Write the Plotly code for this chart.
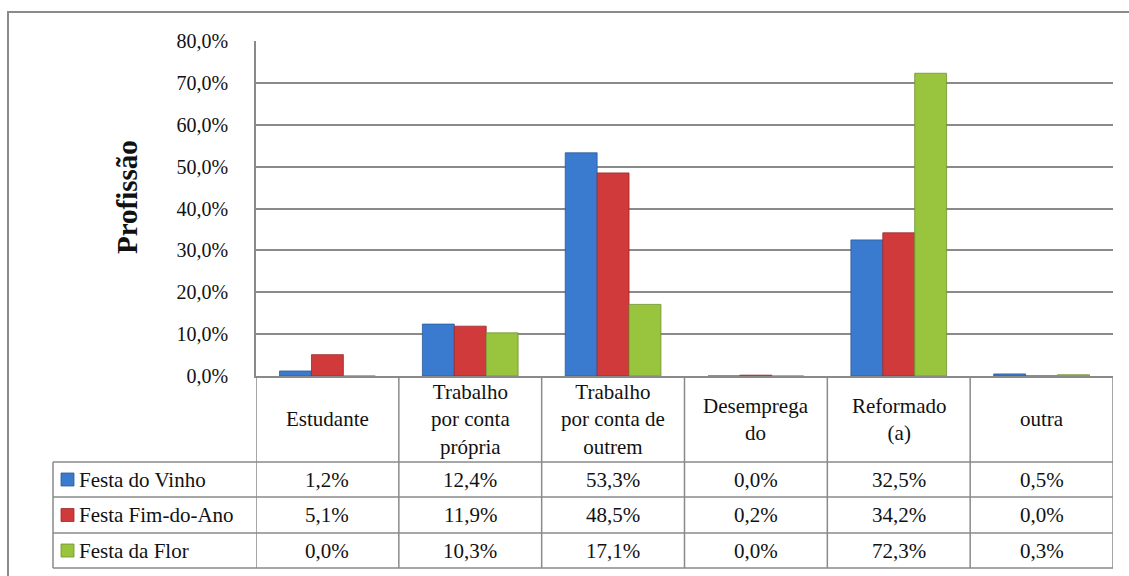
import plotly.graph_objects as go

# --- data -----------------------------------------------------------------
categories = ["Estudante", "Trabalho por conta própria", "Trabalho por conta de outrem",
              "Desempregado", "Reformado (a)", "outra"]
header_labels = ["Estudante", "Trabalho<br>por conta<br>própria", "Trabalho<br>por conta de<br>outrem",
                 "Desemprega<br>do", "Reformado<br>(a)", "outra"]
series_names = ["Festa do Vinho", "Festa Fim-do-Ano", "Festa da Flor"]
festa_vinho = [1.2, 12.4, 53.3, 0.0, 32.5, 0.5]
festa_fim_ano = [5.1, 11.9, 48.5, 0.2, 34.2, 0.0]
festa_flor = [0.0, 10.3, 17.1, 0.0, 72.3, 0.3]
y_ticks = [0, 10, 20, 30, 40, 50, 60, 70, 80]

series_values = [festa_vinho, festa_fim_ano, festa_flor]
colors = ["#3a7bd0", "#d13a3a", "#98c43e"]
edge_colors = ["#2a5a98", "#9c2828", "#6f9230"]

W, H = 1129, 576
FONT = "Liberation Serif, DejaVu Serif, serif"
GRID = "#8a8a8a"
TXT = "#111111"
TABLE_FONT = 21


def px(x):
    return x / W


def py(y):
    return 1 - y / H


def pct(v):
    return f"{v:.1f}".replace(".", ",") + "%"


# plot-area geometry (pixels)
PL, PR, PT, PB = 256, 1113, 41, 376
TABLE_LEFT = 53
ROW_LINES = [462, 497, 533, 568]

fig = go.Figure()
idx = list(range(len(categories)))
for name, vals, c, ec in zip(series_names, series_values, colors, edge_colors):
    fig.add_trace(go.Bar(
        x=idx, y=vals, name=name,
        marker=dict(color=c, line=dict(color=ec, width=0.8)),
        hoverinfo="skip",
    ))

shapes = []
annotations = []

# outer chart frame (extends past the right/bottom of the page)
shapes.append(dict(type="rect", xref="paper", yref="paper",
                   x0=px(8), x1=px(1135), y0=py(584), y1=py(12),
                   line=dict(color=GRID, width=2), fillcolor="rgba(0,0,0,0)", layer="below"))

# data table: column separators
for k in range(len(categories) + 1):
    shapes.append(dict(type="line", xref="x", yref="paper",
                       x0=k - 0.5, x1=k - 0.5, y0=py(PB), y1=py(ROW_LINES[-1]),
                       line=dict(color=GRID, width=1.5)))
# row separators
for yl in ROW_LINES:
    shapes.append(dict(type="line", xref="paper", yref="paper",
                       x0=px(TABLE_LEFT), x1=px(PR), y0=py(yl), y1=py(yl),
                       line=dict(color=GRID, width=1.5)))
# left edge of series-name column
shapes.append(dict(type="line", xref="paper", yref="paper",
                   x0=px(TABLE_LEFT), x1=px(TABLE_LEFT), y0=py(ROW_LINES[0]), y1=py(ROW_LINES[-1]),
                   line=dict(color=GRID, width=1.5)))

# header row: category names
for k, lab in enumerate(header_labels):
    annotations.append(dict(xref="x", yref="paper", x=k, y=py((PB + ROW_LINES[0]) / 2),
                            text=lab, showarrow=False, xanchor="center", yanchor="middle",
                            font=dict(family=FONT, size=TABLE_FONT, color=TXT)))

# series rows: key square, name and values
for r, (name, vals, c, ec) in enumerate(zip(series_names, series_values, colors, edge_colors)):
    yc = (ROW_LINES[r] + ROW_LINES[r + 1]) / 2
    shapes.append(dict(type="rect", xref="paper", yref="paper",
                       x0=px(61), x1=px(74), y0=py(yc + 6.5), y1=py(yc - 6.5),
                       fillcolor=c, line=dict(color=ec, width=0.8)))
    annotations.append(dict(xref="paper", yref="paper", x=px(77), y=py(yc),
                            text=name, showarrow=False, xanchor="left", yanchor="middle",
                            font=dict(family=FONT, size=TABLE_FONT, color=TXT)))
    for k, v in enumerate(vals):
        annotations.append(dict(xref="x", yref="paper", x=k, y=py(yc),
                                text=pct(v), showarrow=False,
                                xanchor="center", yanchor="middle",
                                font=dict(family=FONT, size=TABLE_FONT, color=TXT)))

# vertical axis title
annotations.append(dict(xref="paper", yref="paper", x=px(127), y=py(197),
                        text="<b>Profissão</b>", showarrow=False, textangle=-90,
                        xanchor="center", yanchor="middle",
                        font=dict(family=FONT, size=29, color=TXT)))

fig.update_layout(
    width=W, height=H,
    margin=dict(l=0, r=0, t=0, b=0, autoexpand=False),
    paper_bgcolor="white", plot_bgcolor="white",
    barmode="group", bargap=0.33, bargroupgap=0.0,
    showlegend=False,
    font=dict(family=FONT, size=20, color=TXT),
    xaxis=dict(domain=[px(PL), px(PR)], range=[-0.5, len(categories) - 0.5],
               showticklabels=False, showgrid=False, zeroline=False, automargin=False,
               showline=True, linecolor=GRID, linewidth=1.5, fixedrange=True),
    yaxis=dict(domain=[py(PB), py(PT)], range=[0, 80],
               tickvals=y_ticks, ticktext=[pct(t) for t in y_ticks],
               ticklabelstandoff=22, automargin=False,
               showgrid=True, gridcolor=GRID, gridwidth=1.5, zeroline=False,
               showline=True, linecolor=GRID, linewidth=1.5,
               tickfont=dict(family=FONT, size=20, color=TXT), fixedrange=True),
    shapes=shapes,
    annotations=annotations,
)

fig.write_html("out.html")
